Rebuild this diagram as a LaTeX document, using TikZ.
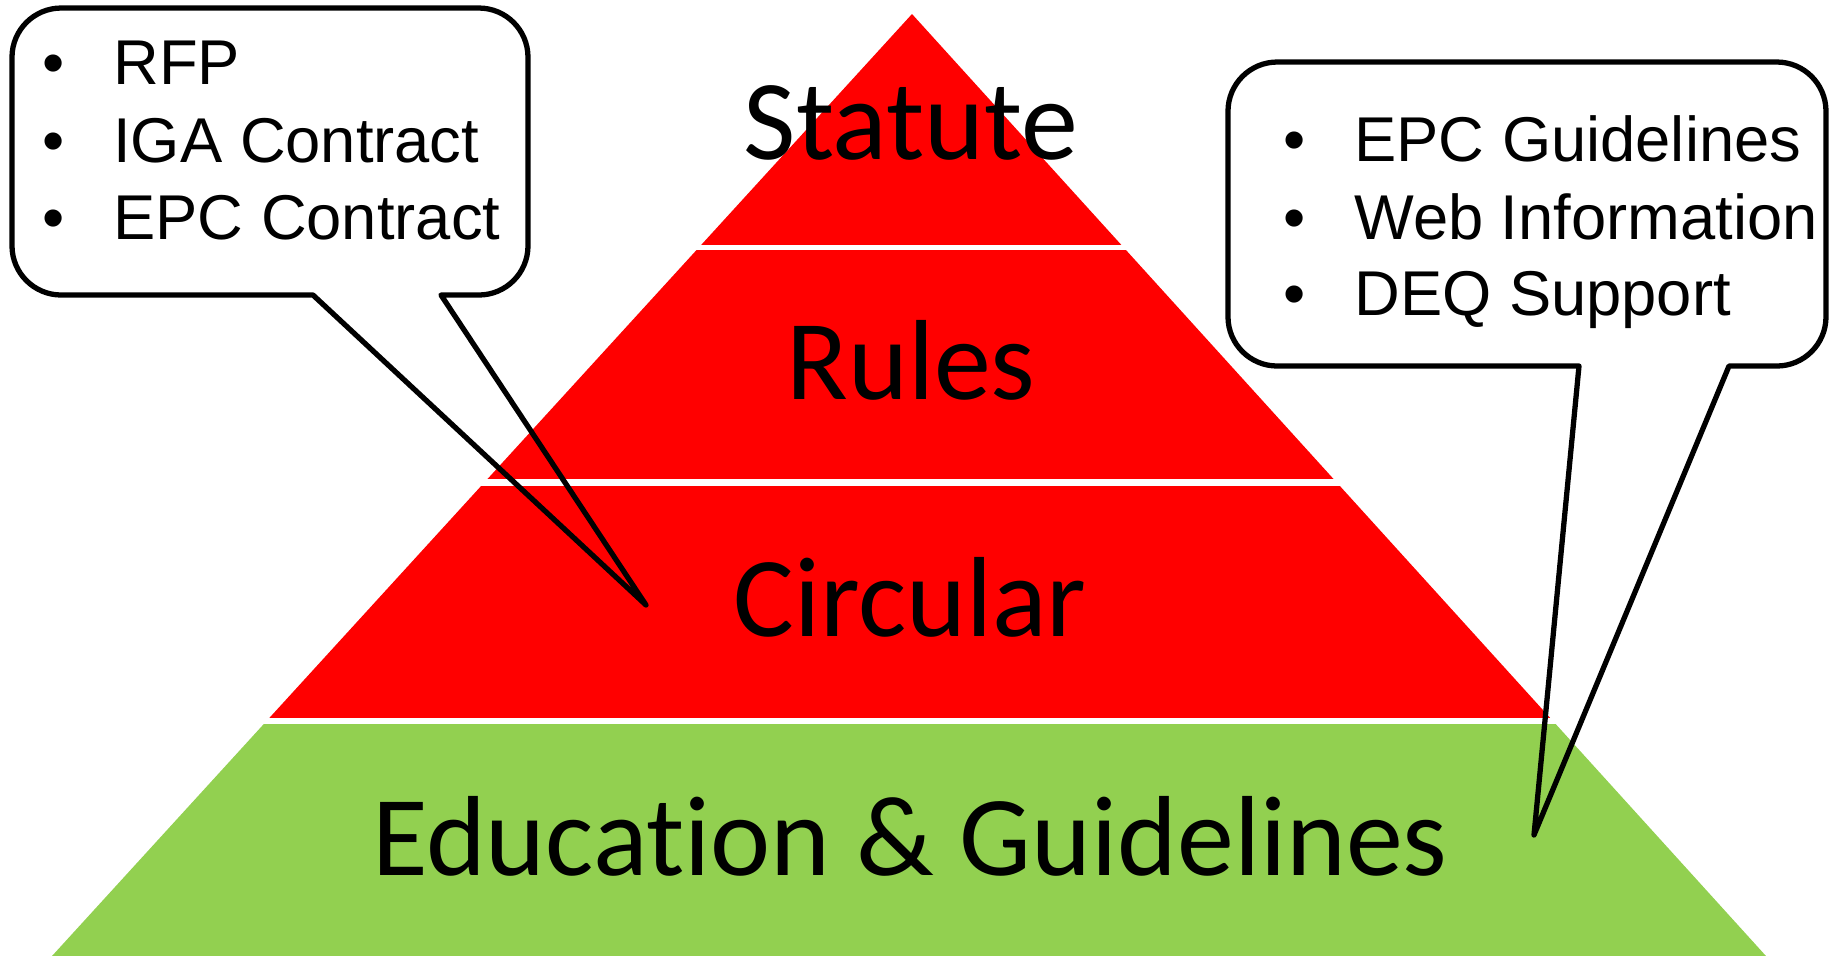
\documentclass[tikz,border=0pt]{standalone}
\usepackage{fontspec}
\usepackage{xcolor}
\usepackage{tikz}
\usetikzlibrary{positioning}
\setmainfont{Liberation Sans}
\newfontfamily\tierfont[Ligatures=NoCommon]{Carlito}
\definecolor{tierred}{RGB}{255,0,0}
\definecolor{tiergreen}{RGB}{146,208,80}

\begin{document}
\begin{tikzpicture}[x=0.01cm,y=-0.01cm]
	\tikzstyle{tier}=[font=\tierfont\fontsize{32.4}{38}\selectfont, anchor=base, inner sep=0pt]
	\tikzstyle{item}=[font=\fontsize{18}{22}\selectfont, anchor=base west, inner sep=0pt]
	\tikzstyle{callout}=[draw=black, line width=1.5pt, line join=round]
	\useasboundingbox (0,0) rectangle (1829,956);
	\coordinate (top) at (912,14);
	\coordinate (bl) at (52,956);
	\coordinate (br) at (1766,956);
	\begin{scope}
		\clip (top) -- (bl) -- (br) -- cycle;
		\fill[tierred] (0,0) rectangle (1829,245);
		\fill[tierred] (0,250) rectangle (1829,479);
		\fill[tierred] (0,486) rectangle (1829,718);
		\fill[tiergreen] (0,724) rectangle (1829,956);
	\end{scope}
	\node[tier](statute) at (911,159) {Statute};
	\node[tier](rules) at (911,399) {Rules};
	\node[tier](circular) at (910,636) {Circular};
	\node[tier](education) at (910,875) {Education \& Guidelines};
	% left callout
	\node[item](rfp) at (42,84) {\textbullet\hspace{13.8pt}RFP};
	\node[item](iga) at (42,162) {\textbullet\hspace{13.8pt}IGA Contract};
	\node[item](epcc) at (42,239) {\textbullet\hspace{13.8pt}EPC Contract};
	\coordinate (ltip) at (646,605);
	\draw[callout] (528,150) [rounded corners=14pt] -- (528,8) -- (12,8) -- (12,295) [sharp corners] -- (313,295) -- (ltip) -- (441,295) [rounded corners=14pt] -- (528,295) -- cycle;
	% right callout
	\node[item](epcg) at (1283,161) {\textbullet\hspace{13.8pt}EPC Guidelines};
	\node[item](web) at (1283,239) {\textbullet\hspace{13.8pt}Web Information};
	\node[item](deq) at (1283,315) {\textbullet\hspace{13.8pt}DEQ Support};
	\coordinate (rtip) at (1534,835);
	\draw[callout] (1826,200) [rounded corners=14pt] -- (1826,62) -- (1228,62) -- (1228,366) [sharp corners] -- (1579,366) -- (rtip) -- (1729,366) [rounded corners=14pt] -- (1826,366) -- cycle;
\end{tikzpicture}
\end{document}
